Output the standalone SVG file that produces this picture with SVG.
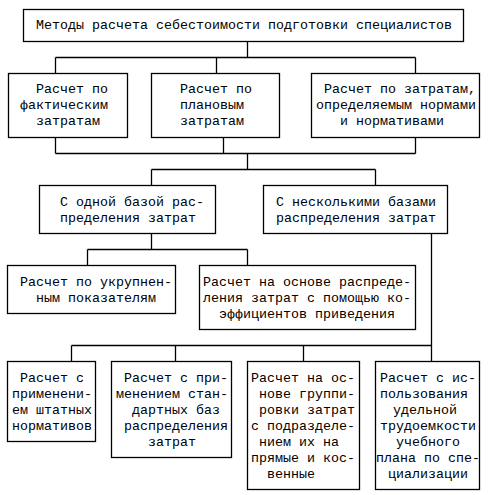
<svg xmlns="http://www.w3.org/2000/svg" width="489" height="495" viewBox="0 0 489 495">
<style>
.b{fill:#fff;stroke:#000;stroke-width:1.3}
.c{fill:none;stroke:#000;stroke-width:1.3}
text{font-family:"Liberation Mono","Courier New",monospace;font-size:13.33px;fill:#000;white-space:pre}
</style>
<rect width="489" height="495" fill="#fff"/>
<g id="connectors" class="c">
<path d="M247.5,41.5V57.5M55.5,57.5H415.5M55.5,57.5V73.5M216.5,57.5V73.5M415.5,57.5V73.5"/>
<path d="M55.5,137.5V153.5M223.5,137.5V153.5M415.5,137.5V153.5M55.5,153.5H415.5M247.5,153.5V169.5M151.5,169.5H375.5M151.5,169.5V185.5M375.5,169.5V185.5"/>
<path d="M151.5,233.5V249.5M87.5,249.5H247.5M87.5,249.5V265.5M247.5,249.5V265.5"/>
<path d="M431.5,233.5V345.5M71.5,345.5H431.5M71.5,345.5V361.5M175.5,345.5V361.5M303.5,345.5V361.5M431.5,345.5V361.5"/>
</g>
<g id="root"><rect class="b" x="23.5" y="9.5" width="440" height="32"/>
<text x="36" y="29">Методы расчета себестоимости подготовки специалистов</text></g>
<g id="fact"><rect class="b" x="8.5" y="73.5" width="119" height="64"/>
<text x="36" y="93">Расчет по</text><text x="20" y="109">фактическим</text><text x="36" y="125">затратам</text></g>
<g id="plan"><rect class="b" x="151.5" y="73.5" width="128" height="64"/>
<text x="180" y="93">Расчет по</text><text x="180" y="109">плановым</text><text x="180" y="125">затратам</text></g>
<g id="norm"><rect class="b" x="311.5" y="73.5" width="168" height="64"/>
<text x="324" y="93">Расчет по затратам,</text><text x="316" y="109">определяемым нормами</text><text x="340" y="125">и нормативами</text></g>
<g id="one"><rect class="b" x="39.5" y="185.5" width="176" height="48"/>
<text x="60" y="206">С одной базой рас-</text><text x="60" y="222">пределения затрат</text></g>
<g id="many"><rect class="b" x="263.5" y="185.5" width="184" height="48"/>
<text x="276" y="206">С несколькими базами</text><text x="276" y="222">распределения затрат</text></g>
<g id="ukr"><rect class="b" x="7.5" y="265.5" width="168" height="48"/>
<text x="20" y="286">Расчет по укрупнен-</text><text x="36" y="302">ным показателям</text></g>
<g id="koef"><rect class="b" x="199.5" y="265.5" width="216" height="64"/>
<text x="203" y="286">Расчет на основе распреде-</text><text x="203" y="302">ления затрат с помощью ко-</text><text x="219" y="318">эффициентов приведения</text></g>
<g id="shtat"><rect class="b" x="7.5" y="361.5" width="88" height="80"/>
<text x="20" y="382">Расчет с</text><text x="12" y="398">применени-</text><text x="12" y="414">ем штатных</text><text x="12" y="430">нормативов</text></g>
<g id="std"><rect class="b" x="111.5" y="361.5" width="120" height="96"/>
<text x="124" y="382">Расчет с при-</text><text x="116" y="398">менением стан-</text><text x="132" y="414">дартных баз</text><text x="124" y="430">распределения</text><text x="148" y="446">затрат</text></g>
<g id="group"><rect class="b" x="247.5" y="361.5" width="112" height="128"/>
<text x="251" y="382">Расчет на ос-</text><text x="259" y="398">нове группи-</text><text x="259" y="414">ровки затрат</text><text x="251" y="430">с подразделе-</text><text x="259" y="446">нием их на</text><text x="251" y="462">прямые и кос-</text><text x="267" y="478">венные</text></g>
<g id="trud"><rect class="b" x="375.5" y="361.5" width="104" height="128"/>
<text x="380" y="382">Расчет с ис-</text><text x="380" y="398">пользования</text><text x="393" y="414">удельной</text><text x="380" y="430">трудоемкости</text><text x="396" y="446">учебного</text><text x="376" y="462">плана по спе-</text><text x="388" y="478">циализации</text></g>
</svg>
